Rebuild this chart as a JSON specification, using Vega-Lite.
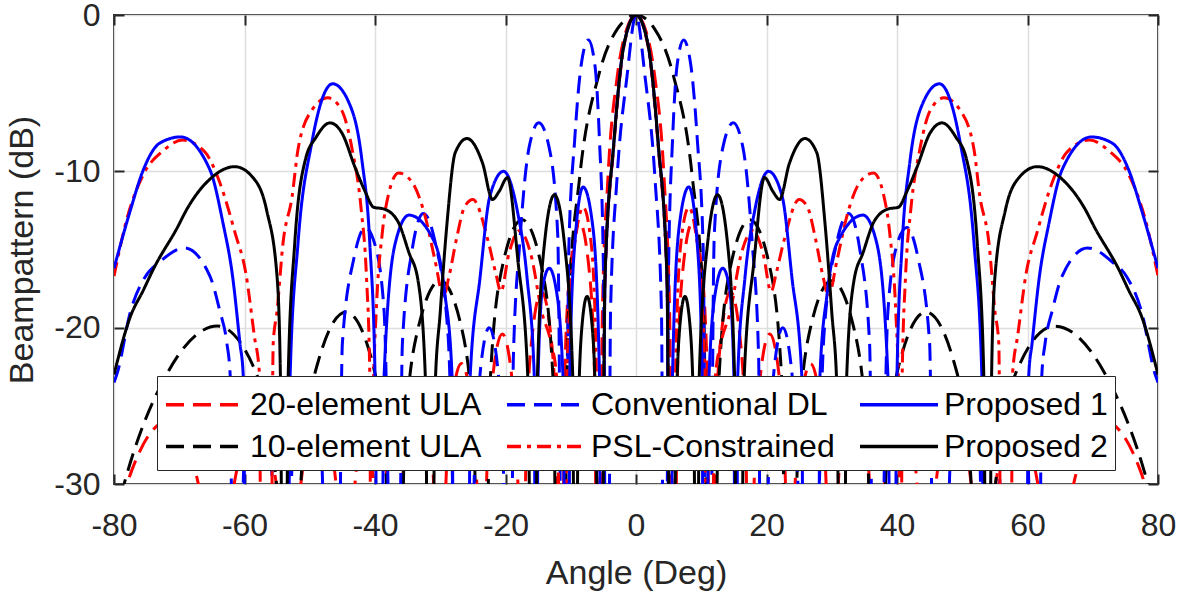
{
"$schema":"https://vega.github.io/schema/vega-lite/v6.json",
"width":1044,"height":469,"autosize":"none",
"padding":{"left":114,"top":15,"right":21,"bottom":116},
"background":"#ffffff",
"config":{"view":{"stroke":"#262626","strokeWidth":2},"font":"Liberation Sans",
 "axis":{"labelFont":"Liberation Sans","labelFontSize":32,"labelColor":"#262626","titleFont":"Liberation Sans","titleFontSize":34,"titleFontWeight":"normal","titleColor":"#262626","gridColor":"#dedede","gridWidth":1.5,"domain":false,"tickColor":"#262626","tickWidth":2,"tickSize":-10,"labelFlush":false,"labelOverlap":false,"labelExpr":"'' + datum.value"}},
"data":{"values":[
{"series":"20-element ULA","deg":-80,"db":-32.9},{"series":"20-element ULA","deg":-77.16,"db":-29},{"series":"20-element ULA","deg":-71.81,"db":-26},{"series":"20-element ULA","deg":-67.67,"db":-29},{"series":"20-element ULA","deg":-65.5,"db":-36.2},{"series":"20-element ULA","deg":-64.16,"db":-60},{"series":"20-element ULA","deg":-62.87,"db":-36},{"series":"20-element ULA","deg":-61.04,"db":-28.8},{"series":"20-element ULA","deg":-58.21,"db":-25.8},{"series":"20-element ULA","deg":-55.59,"db":-28.8},{"series":"20-element ULA","deg":-54.1,"db":-36},{"series":"20-element ULA","deg":-53.13,"db":-60},{"series":"20-element ULA","deg":-52.19,"db":-35.5},{"series":"20-element ULA","deg":-50.81,"db":-28.3},{"series":"20-element ULA","deg":-48.59,"db":-25.3},{"series":"20-element ULA","deg":-46.48,"db":-28.3},{"series":"20-element ULA","deg":-45.23,"db":-35.5},{"series":"20-element ULA","deg":-44.43,"db":-60},{"series":"20-element ULA","deg":-43.63,"db":-34.8},{"series":"20-element ULA","deg":-42.45,"db":-27.6},{"series":"20-element ULA","deg":-40.54,"db":-24.6},{"series":"20-element ULA","deg":-38.68,"db":-27.6},{"series":"20-element ULA","deg":-37.59,"db":-34.8},{"series":"20-element ULA","deg":-36.87,"db":-60},{"series":"20-element ULA","deg":-36.16,"db":-33.8},{"series":"20-element ULA","deg":-35.1,"db":-26.6},{"series":"20-element ULA","deg":-33.37,"db":-23.6},{"series":"20-element ULA","deg":-31.67,"db":-26.6},{"series":"20-element ULA","deg":-30.66,"db":-33.8},{"series":"20-element ULA","deg":-30,"db":-60},{"series":"20-element ULA","deg":-29.34,"db":-32.5},{"series":"20-element ULA","deg":-28.36,"db":-25.3},{"series":"20-element ULA","deg":-26.74,"db":-22.3},{"series":"20-element ULA","deg":-25.15,"db":-25.3},{"series":"20-element ULA","deg":-24.2,"db":-32.5},{"series":"20-element ULA","deg":-23.58,"db":-60},{"series":"20-element ULA","deg":-22.95,"db":-30.6},{"series":"20-element ULA","deg":-22.02,"db":-23.4},{"series":"20-element ULA","deg":-20.49,"db":-20.4},{"series":"20-element ULA","deg":-18.97,"db":-23.4},{"series":"20-element ULA","deg":-18.06,"db":-30.6},{"series":"20-element ULA","deg":-17.46,"db":-60},{"series":"20-element ULA","deg":-16.86,"db":-27.9},{"series":"20-element ULA","deg":-15.96,"db":-20.7},{"series":"20-element ULA","deg":-14.48,"db":-17.7},{"series":"20-element ULA","deg":-13,"db":-20.7},{"series":"20-element ULA","deg":-12.12,"db":-27.9},{"series":"20-element ULA","deg":-11.54,"db":-60},{"series":"20-element ULA","deg":-10.95,"db":-23.5},{"series":"20-element ULA","deg":-10.08,"db":-16.3},{"series":"20-element ULA","deg":-8.63,"db":-13.3},{"series":"20-element ULA","deg":-7.18,"db":-16.3},{"series":"20-element ULA","deg":-6.32,"db":-23.5},{"series":"20-element ULA","deg":-5.74,"db":-60},{"series":"20-element ULA","deg":-5.16,"db":-19.2},{"series":"20-element ULA","deg":-4.3,"db":-10.43},{"series":"20-element ULA","deg":-2.87,"db":-3.92},{"series":"20-element ULA","deg":-1.43,"db":-0.91},{"series":"20-element ULA","deg":0,"db":0},
{"series":"20-element ULA","deg":1.43,"db":-0.91},{"series":"20-element ULA","deg":2.87,"db":-3.92},{"series":"20-element ULA","deg":4.3,"db":-10.43},{"series":"20-element ULA","deg":5.16,"db":-19.2},{"series":"20-element ULA","deg":5.74,"db":-60},{"series":"20-element ULA","deg":6.32,"db":-23.5},{"series":"20-element ULA","deg":7.18,"db":-16.3},{"series":"20-element ULA","deg":8.63,"db":-13.3},{"series":"20-element ULA","deg":10.08,"db":-16.3},{"series":"20-element ULA","deg":10.95,"db":-23.5},{"series":"20-element ULA","deg":11.54,"db":-60},{"series":"20-element ULA","deg":12.12,"db":-27.9},{"series":"20-element ULA","deg":13,"db":-20.7},{"series":"20-element ULA","deg":14.48,"db":-17.7},{"series":"20-element ULA","deg":15.96,"db":-20.7},{"series":"20-element ULA","deg":16.86,"db":-27.9},{"series":"20-element ULA","deg":17.46,"db":-60},{"series":"20-element ULA","deg":18.06,"db":-30.6},{"series":"20-element ULA","deg":18.97,"db":-23.4},{"series":"20-element ULA","deg":20.49,"db":-20.4},{"series":"20-element ULA","deg":22.02,"db":-23.4},{"series":"20-element ULA","deg":22.95,"db":-30.6},{"series":"20-element ULA","deg":23.58,"db":-60},{"series":"20-element ULA","deg":24.2,"db":-32.5},{"series":"20-element ULA","deg":25.15,"db":-25.3},{"series":"20-element ULA","deg":26.74,"db":-22.3},{"series":"20-element ULA","deg":28.36,"db":-25.3},{"series":"20-element ULA","deg":29.34,"db":-32.5},{"series":"20-element ULA","deg":30,"db":-60},{"series":"20-element ULA","deg":30.66,"db":-33.8},{"series":"20-element ULA","deg":31.67,"db":-26.6},{"series":"20-element ULA","deg":33.37,"db":-23.6},{"series":"20-element ULA","deg":35.1,"db":-26.6},{"series":"20-element ULA","deg":36.16,"db":-33.8},{"series":"20-element ULA","deg":36.87,"db":-60},{"series":"20-element ULA","deg":37.59,"db":-34.8},{"series":"20-element ULA","deg":38.68,"db":-27.6},{"series":"20-element ULA","deg":40.54,"db":-24.6},{"series":"20-element ULA","deg":42.45,"db":-27.6},{"series":"20-element ULA","deg":43.63,"db":-34.8},{"series":"20-element ULA","deg":44.43,"db":-60},{"series":"20-element ULA","deg":45.23,"db":-35.5},{"series":"20-element ULA","deg":46.48,"db":-28.3},{"series":"20-element ULA","deg":48.59,"db":-25.3},{"series":"20-element ULA","deg":50.81,"db":-28.3},{"series":"20-element ULA","deg":52.19,"db":-35.5},{"series":"20-element ULA","deg":53.13,"db":-60},{"series":"20-element ULA","deg":54.1,"db":-36},{"series":"20-element ULA","deg":55.59,"db":-28.8},{"series":"20-element ULA","deg":58.21,"db":-25.8},{"series":"20-element ULA","deg":61.04,"db":-28.8},{"series":"20-element ULA","deg":62.87,"db":-36},{"series":"20-element ULA","deg":64.16,"db":-60},{"series":"20-element ULA","deg":65.5,"db":-36.2},{"series":"20-element ULA","deg":67.67,"db":-29},{"series":"20-element ULA","deg":71.81,"db":-26},{"series":"20-element ULA","deg":77.16,"db":-29},{"series":"20-element ULA","deg":80,"db":-32.9},

{"series":"10-element ULA","deg":-80,"db":-32.5},{"series":"10-element ULA","deg":-78.52,"db":-30.1},{"series":"10-element ULA","deg":-71.81,"db":-22.9},{"series":"10-element ULA","deg":-64.16,"db":-19.9},{"series":"10-element ULA","deg":-58.21,"db":-22.9},{"series":"10-element ULA","deg":-55.08,"db":-30.1},{"series":"10-element ULA","deg":-53.13,"db":-60},{"series":"10-element ULA","deg":-51.26,"db":-29.2},{"series":"10-element ULA","deg":-48.59,"db":-22},{"series":"10-element ULA","deg":-44.43,"db":-19},{"series":"10-element ULA","deg":-40.54,"db":-22},{"series":"10-element ULA","deg":-38.32,"db":-29.2},{"series":"10-element ULA","deg":-36.87,"db":-60},{"series":"10-element ULA","deg":-35.45,"db":-27.2},{"series":"10-element ULA","deg":-33.37,"db":-20},{"series":"10-element ULA","deg":-30,"db":-17},{"series":"10-element ULA","deg":-26.74,"db":-20},{"series":"10-element ULA","deg":-24.83,"db":-27.2},{"series":"10-element ULA","deg":-23.58,"db":-60},{"series":"10-element ULA","deg":-22.33,"db":-23.3},{"series":"10-element ULA","deg":-20.49,"db":-16.1},{"series":"10-element ULA","deg":-17.46,"db":-13.1},{"series":"10-element ULA","deg":-14.48,"db":-16.1},{"series":"10-element ULA","deg":-12.71,"db":-23.3},{"series":"10-element ULA","deg":-11.54,"db":-60},{"series":"10-element ULA","deg":-10.37,"db":-19.1},{"series":"10-element ULA","deg":-8.63,"db":-10.37},{"series":"10-element ULA","deg":-5.74,"db":-3.89},{"series":"10-element ULA","deg":-2.87,"db":-0.9},{"series":"10-element ULA","deg":0,"db":0},{"series":"10-element ULA","deg":2.87,"db":-0.9},{"series":"10-element ULA","deg":5.74,"db":-3.89},{"series":"10-element ULA","deg":8.63,"db":-10.37},{"series":"10-element ULA","deg":10.37,"db":-19.1},{"series":"10-element ULA","deg":11.54,"db":-60},{"series":"10-element ULA","deg":12.71,"db":-23.3},{"series":"10-element ULA","deg":14.48,"db":-16.1},{"series":"10-element ULA","deg":17.46,"db":-13.1},{"series":"10-element ULA","deg":20.49,"db":-16.1},{"series":"10-element ULA","deg":22.33,"db":-23.3},{"series":"10-element ULA","deg":23.58,"db":-60},{"series":"10-element ULA","deg":24.83,"db":-27.2},{"series":"10-element ULA","deg":26.74,"db":-20},{"series":"10-element ULA","deg":30,"db":-17},{"series":"10-element ULA","deg":33.37,"db":-20},{"series":"10-element ULA","deg":35.45,"db":-27.2},{"series":"10-element ULA","deg":36.87,"db":-60},{"series":"10-element ULA","deg":38.32,"db":-29.2},{"series":"10-element ULA","deg":40.54,"db":-22},{"series":"10-element ULA","deg":44.43,"db":-19},{"series":"10-element ULA","deg":48.59,"db":-22},{"series":"10-element ULA","deg":51.26,"db":-29.2},{"series":"10-element ULA","deg":53.13,"db":-60},{"series":"10-element ULA","deg":55.08,"db":-30.1},{"series":"10-element ULA","deg":58.21,"db":-22.9},{"series":"10-element ULA","deg":64.16,"db":-19.9},{"series":"10-element ULA","deg":71.81,"db":-22.9},{"series":"10-element ULA","deg":78.52,"db":-30.1},{"series":"10-element ULA","deg":80,"db":-32.5},

{"series":"Conventional DL","deg":-80,"db":-23.5},{"series":"Conventional DL","deg":-79.5,"db":-22.9},{"series":"Conventional DL","deg":-77.5,"db":-19},{"series":"Conventional DL","deg":-75.3,"db":-16.8},{"series":"Conventional DL","deg":-73,"db":-15.8},{"series":"Conventional DL","deg":-69.2,"db":-14.9},{"series":"Conventional DL","deg":-65.3,"db":-16.7},{"series":"Conventional DL","deg":-63.8,"db":-18.9},{"series":"Conventional DL","deg":-62.7,"db":-21},{"series":"Conventional DL","deg":-62.2,"db":-23},{"series":"Conventional DL","deg":-61.5,"db":-60},{"series":"Conventional DL","deg":-60,"db":-28},{"series":"Conventional DL","deg":-58,"db":-25},{"series":"Conventional DL","deg":-56,"db":-28},{"series":"Conventional DL","deg":-54,"db":-60},{"series":"Conventional DL","deg":-52.5,"db":-26},{"series":"Conventional DL","deg":-50.5,"db":-23.5},{"series":"Conventional DL","deg":-48.5,"db":-26},{"series":"Conventional DL","deg":-46,"db":-60},{"series":"Conventional DL","deg":-45,"db":-21},{"series":"Conventional DL","deg":-43.2,"db":-15.5},{"series":"Conventional DL","deg":-41.5,"db":-13.6},{"series":"Conventional DL","deg":-40,"db":-14.7},{"series":"Conventional DL","deg":-38.6,"db":-19},{"series":"Conventional DL","deg":-36.7,"db":-60},{"series":"Conventional DL","deg":-35.8,"db":-21},{"series":"Conventional DL","deg":-34.3,"db":-15},{"series":"Conventional DL","deg":-32.6,"db":-12.7},{"series":"Conventional DL","deg":-30.8,"db":-14.5},{"series":"Conventional DL","deg":-28.8,"db":-20.5},{"series":"Conventional DL","deg":-26.3,"db":-60},{"series":"Conventional DL","deg":-24.5,"db":-26},{"series":"Conventional DL","deg":-22.5,"db":-20},{"series":"Conventional DL","deg":-20.5,"db":-26},{"series":"Conventional DL","deg":-19.3,"db":-60},{"series":"Conventional DL","deg":-18.8,"db":-22},{"series":"Conventional DL","deg":-17.8,"db":-14.5},{"series":"Conventional DL","deg":-16.4,"db":-8.5},{"series":"Conventional DL","deg":-14.9,"db":-6.9},{"series":"Conventional DL","deg":-13.3,"db":-8.5},{"series":"Conventional DL","deg":-12,"db":-14},{"series":"Conventional DL","deg":-11,"db":-60},{"series":"Conventional DL","deg":-10.3,"db":-15},{"series":"Conventional DL","deg":-9.4,"db":-8},{"series":"Conventional DL","deg":-8.4,"db":-3.2},{"series":"Conventional DL","deg":-7.3,"db":-1.6},{"series":"Conventional DL","deg":-6.3,"db":-3.2},{"series":"Conventional DL","deg":-5.6,"db":-8},{"series":"Conventional DL","deg":-5,"db":-16},{"series":"Conventional DL","deg":-4.4,"db":-60},{"series":"Conventional DL","deg":-3.9,"db":-18.9},{"series":"Conventional DL","deg":-2.9,"db":-10.4},{"series":"Conventional DL","deg":-1.4,"db":-4},{"series":"Conventional DL","deg":0,"db":0},{"series":"Conventional DL","deg":1.4,"db":-4},{"series":"Conventional DL","deg":2.9,"db":-10.4},{"series":"Conventional DL","deg":3.9,"db":-18.9},{"series":"Conventional DL","deg":4.4,"db":-60},{"series":"Conventional DL","deg":5,"db":-16},{"series":"Conventional DL","deg":5.6,"db":-8},{"series":"Conventional DL","deg":6.3,"db":-3.2},{"series":"Conventional DL","deg":7.3,"db":-1.6},{"series":"Conventional DL","deg":8.4,"db":-3.2},{"series":"Conventional DL","deg":9.4,"db":-8},{"series":"Conventional DL","deg":10.3,"db":-15},{"series":"Conventional DL","deg":11,"db":-60},{"series":"Conventional DL","deg":12,"db":-14},{"series":"Conventional DL","deg":13.3,"db":-8.5},{"series":"Conventional DL","deg":14.9,"db":-6.9},{"series":"Conventional DL","deg":16.4,"db":-8.5},{"series":"Conventional DL","deg":17.8,"db":-14.5},{"series":"Conventional DL","deg":18.8,"db":-22},{"series":"Conventional DL","deg":19.3,"db":-60},{"series":"Conventional DL","deg":20.5,"db":-26},{"series":"Conventional DL","deg":22.5,"db":-20},{"series":"Conventional DL","deg":24.5,"db":-26},{"series":"Conventional DL","deg":26.3,"db":-60},{"series":"Conventional DL","deg":28.8,"db":-20.5},{"series":"Conventional DL","deg":30.8,"db":-14.5},{"series":"Conventional DL","deg":32.6,"db":-12.7},{"series":"Conventional DL","deg":34.3,"db":-15},{"series":"Conventional DL","deg":35.8,"db":-21},{"series":"Conventional DL","deg":36.7,"db":-60},{"series":"Conventional DL","deg":38.6,"db":-19},{"series":"Conventional DL","deg":40,"db":-14.7},{"series":"Conventional DL","deg":41.5,"db":-13.6},{"series":"Conventional DL","deg":43.2,"db":-15.5},{"series":"Conventional DL","deg":45,"db":-21},{"series":"Conventional DL","deg":46,"db":-60},{"series":"Conventional DL","deg":48.5,"db":-26},{"series":"Conventional DL","deg":50.5,"db":-23.5},{"series":"Conventional DL","deg":52.5,"db":-26},{"series":"Conventional DL","deg":54,"db":-60},{"series":"Conventional DL","deg":56,"db":-28},{"series":"Conventional DL","deg":58,"db":-25},{"series":"Conventional DL","deg":60,"db":-28},{"series":"Conventional DL","deg":61.5,"db":-60},{"series":"Conventional DL","deg":62.2,"db":-23},{"series":"Conventional DL","deg":62.7,"db":-21},{"series":"Conventional DL","deg":63.8,"db":-18.9},{"series":"Conventional DL","deg":65.3,"db":-16.7},{"series":"Conventional DL","deg":69.2,"db":-14.9},{"series":"Conventional DL","deg":73,"db":-15.8},{"series":"Conventional DL","deg":75.3,"db":-16.8},{"series":"Conventional DL","deg":77.5,"db":-19},{"series":"Conventional DL","deg":79.5,"db":-22.9},{"series":"Conventional DL","deg":80,"db":-23.5},

{"series":"PSL-Constrained","deg":-80,"db":-16.7},{"series":"PSL-Constrained","deg":-78,"db":-13},{"series":"PSL-Constrained","deg":-75.5,"db":-10.2},{"series":"PSL-Constrained","deg":-72.5,"db":-8.7},{"series":"PSL-Constrained","deg":-69.5,"db":-8},{"series":"PSL-Constrained","deg":-66,"db":-8.8},{"series":"PSL-Constrained","deg":-63.8,"db":-10.7},{"series":"PSL-Constrained","deg":-61.4,"db":-14},{"series":"PSL-Constrained","deg":-59.8,"db":-16.5},{"series":"PSL-Constrained","deg":-58.5,"db":-20.5},{"series":"PSL-Constrained","deg":-57.7,"db":-23},{"series":"PSL-Constrained","deg":-57.3,"db":-60},{"series":"PSL-Constrained","deg":-56.2,"db":-60},{"series":"PSL-Constrained","deg":-55.6,"db":-21},{"series":"PSL-Constrained","deg":-55,"db":-18.9},{"series":"PSL-Constrained","deg":-54.1,"db":-14.6},{"series":"PSL-Constrained","deg":-52.7,"db":-11.6},{"series":"PSL-Constrained","deg":-51.8,"db":-8.6},{"series":"PSL-Constrained","deg":-49.7,"db":-6.1},{"series":"PSL-Constrained","deg":-47.2,"db":-5.3},{"series":"PSL-Constrained","deg":-45.1,"db":-6.1},{"series":"PSL-Constrained","deg":-43.5,"db":-8.6},{"series":"PSL-Constrained","deg":-42.1,"db":-12.5},{"series":"PSL-Constrained","deg":-41.3,"db":-16.8},{"series":"PSL-Constrained","deg":-40.8,"db":-23},{"series":"PSL-Constrained","deg":-40.5,"db":-60},{"series":"PSL-Constrained","deg":-40.3,"db":-25},{"series":"PSL-Constrained","deg":-39.8,"db":-18.9},{"series":"PSL-Constrained","deg":-38.9,"db":-14},{"series":"PSL-Constrained","deg":-38,"db":-11.6},{"series":"PSL-Constrained","deg":-36.4,"db":-10.1},{"series":"PSL-Constrained","deg":-34.3,"db":-10.7},{"series":"PSL-Constrained","deg":-32.3,"db":-12.9},{"series":"PSL-Constrained","deg":-30.8,"db":-15.7},{"series":"PSL-Constrained","deg":-29.5,"db":-18},{"series":"PSL-Constrained","deg":-28.7,"db":-16.8},{"series":"PSL-Constrained","deg":-27.5,"db":-14.3},{"series":"PSL-Constrained","deg":-26.3,"db":-12.3},{"series":"PSL-Constrained","deg":-25,"db":-11.8},{"series":"PSL-Constrained","deg":-22.7,"db":-14.4},{"series":"PSL-Constrained","deg":-21.5,"db":-16.5},{"series":"PSL-Constrained","deg":-20.7,"db":-17.7},{"series":"PSL-Constrained","deg":-19.5,"db":-15.3},{"series":"PSL-Constrained","deg":-17.9,"db":-13.8},{"series":"PSL-Constrained","deg":-16,"db":-15.5},{"series":"PSL-Constrained","deg":-14.5,"db":-18.9},{"series":"PSL-Constrained","deg":-13,"db":-21},{"series":"PSL-Constrained","deg":-12.2,"db":-23},{"series":"PSL-Constrained","deg":-10.9,"db":-60},{"series":"PSL-Constrained","deg":-10.6,"db":-24},{"series":"PSL-Constrained","deg":-10,"db":-17.5},{"series":"PSL-Constrained","deg":-9.1,"db":-13.8},{"series":"PSL-Constrained","deg":-8.1,"db":-12.3},{"series":"PSL-Constrained","deg":-6.9,"db":-14.5},{"series":"PSL-Constrained","deg":-6.1,"db":-22},{"series":"PSL-Constrained","deg":-5.6,"db":-60},{"series":"PSL-Constrained","deg":-4.75,"db":-17},{"series":"PSL-Constrained","deg":-3.4,"db":-8.4},{"series":"PSL-Constrained","deg":-1.8,"db":-1.9},{"series":"PSL-Constrained","deg":0,"db":0},{"series":"PSL-Constrained","deg":1.8,"db":-1.9},{"series":"PSL-Constrained","deg":3.4,"db":-8.4},{"series":"PSL-Constrained","deg":4.75,"db":-17},{"series":"PSL-Constrained","deg":5.6,"db":-60},{"series":"PSL-Constrained","deg":6.1,"db":-22},{"series":"PSL-Constrained","deg":6.9,"db":-14.5},{"series":"PSL-Constrained","deg":8.1,"db":-12.3},{"series":"PSL-Constrained","deg":9.1,"db":-13.8},{"series":"PSL-Constrained","deg":10,"db":-17.5},{"series":"PSL-Constrained","deg":10.6,"db":-24},{"series":"PSL-Constrained","deg":10.9,"db":-60},{"series":"PSL-Constrained","deg":12.2,"db":-23},{"series":"PSL-Constrained","deg":13,"db":-21},{"series":"PSL-Constrained","deg":14.5,"db":-18.9},{"series":"PSL-Constrained","deg":16,"db":-15.5},{"series":"PSL-Constrained","deg":17.9,"db":-13.8},{"series":"PSL-Constrained","deg":19.5,"db":-15.3},{"series":"PSL-Constrained","deg":20.7,"db":-17.7},{"series":"PSL-Constrained","deg":21.5,"db":-16.5},{"series":"PSL-Constrained","deg":22.7,"db":-14.4},{"series":"PSL-Constrained","deg":25,"db":-11.8},{"series":"PSL-Constrained","deg":26.3,"db":-12.3},{"series":"PSL-Constrained","deg":27.5,"db":-14.3},{"series":"PSL-Constrained","deg":28.7,"db":-16.8},{"series":"PSL-Constrained","deg":29.5,"db":-18},{"series":"PSL-Constrained","deg":30.8,"db":-15.7},{"series":"PSL-Constrained","deg":32.3,"db":-12.9},{"series":"PSL-Constrained","deg":34.3,"db":-10.7},{"series":"PSL-Constrained","deg":36.4,"db":-10.1},{"series":"PSL-Constrained","deg":38,"db":-11.6},{"series":"PSL-Constrained","deg":38.9,"db":-14},{"series":"PSL-Constrained","deg":39.8,"db":-18.9},{"series":"PSL-Constrained","deg":40.3,"db":-25},{"series":"PSL-Constrained","deg":40.5,"db":-60},{"series":"PSL-Constrained","deg":40.8,"db":-23},{"series":"PSL-Constrained","deg":41.3,"db":-16.8},{"series":"PSL-Constrained","deg":42.1,"db":-12.5},{"series":"PSL-Constrained","deg":43.5,"db":-8.6},{"series":"PSL-Constrained","deg":45.1,"db":-6.1},{"series":"PSL-Constrained","deg":47.2,"db":-5.3},{"series":"PSL-Constrained","deg":49.7,"db":-6.1},{"series":"PSL-Constrained","deg":51.8,"db":-8.6},{"series":"PSL-Constrained","deg":52.7,"db":-11.6},{"series":"PSL-Constrained","deg":54.1,"db":-14.6},{"series":"PSL-Constrained","deg":55,"db":-18.9},{"series":"PSL-Constrained","deg":55.6,"db":-21},{"series":"PSL-Constrained","deg":56.2,"db":-60},{"series":"PSL-Constrained","deg":57.3,"db":-60},{"series":"PSL-Constrained","deg":57.7,"db":-23},{"series":"PSL-Constrained","deg":58.5,"db":-20.5},{"series":"PSL-Constrained","deg":59.8,"db":-16.5},{"series":"PSL-Constrained","deg":61.4,"db":-14},{"series":"PSL-Constrained","deg":63.8,"db":-10.7},{"series":"PSL-Constrained","deg":66,"db":-8.8},{"series":"PSL-Constrained","deg":69.5,"db":-8},{"series":"PSL-Constrained","deg":72.5,"db":-8.7},{"series":"PSL-Constrained","deg":75.5,"db":-10.2},{"series":"PSL-Constrained","deg":78,"db":-13},{"series":"PSL-Constrained","deg":80,"db":-16.7},

{"series":"Proposed 1","deg":-80,"db":-16.2},{"series":"Proposed 1","deg":-77.5,"db":-12.5},{"series":"Proposed 1","deg":-75.5,"db":-9.9},{"series":"Proposed 1","deg":-73,"db":-8.2},{"series":"Proposed 1","deg":-69.8,"db":-7.8},{"series":"Proposed 1","deg":-65.3,"db":-9.9},{"series":"Proposed 1","deg":-63.3,"db":-13.3},{"series":"Proposed 1","deg":-61.8,"db":-16.8},{"series":"Proposed 1","deg":-60.7,"db":-21},{"series":"Proposed 1","deg":-60.2,"db":-23},{"series":"Proposed 1","deg":-59.5,"db":-60},{"series":"Proposed 1","deg":-53.6,"db":-60},{"series":"Proposed 1","deg":-53,"db":-23},{"series":"Proposed 1","deg":-51.8,"db":-14.6},{"series":"Proposed 1","deg":-49.7,"db":-8.2},{"series":"Proposed 1","deg":-46.5,"db":-4.4},{"series":"Proposed 1","deg":-44,"db":-5.6},{"series":"Proposed 1","deg":-42,"db":-9.3},{"series":"Proposed 1","deg":-40.8,"db":-14.6},{"series":"Proposed 1","deg":-40,"db":-23},{"series":"Proposed 1","deg":-39.3,"db":-60},{"series":"Proposed 1","deg":-38.6,"db":-23},{"series":"Proposed 1","deg":-36.9,"db":-14.6},{"series":"Proposed 1","deg":-34.8,"db":-12.8},{"series":"Proposed 1","deg":-30.8,"db":-14.6},{"series":"Proposed 1","deg":-29.3,"db":-17.8},{"series":"Proposed 1","deg":-28.2,"db":-23},{"series":"Proposed 1","deg":-27.8,"db":-60},{"series":"Proposed 1","deg":-25.8,"db":-60},{"series":"Proposed 1","deg":-25.4,"db":-23},{"series":"Proposed 1","deg":-23.9,"db":-16.8},{"series":"Proposed 1","deg":-22.4,"db":-11.6},{"series":"Proposed 1","deg":-20.3,"db":-10},{"series":"Proposed 1","deg":-18.2,"db":-12.5},{"series":"Proposed 1","deg":-16.7,"db":-16.8},{"series":"Proposed 1","deg":-15.6,"db":-23},{"series":"Proposed 1","deg":-15.3,"db":-60},{"series":"Proposed 1","deg":-15,"db":-23},{"series":"Proposed 1","deg":-14.3,"db":-17.4},{"series":"Proposed 1","deg":-13.3,"db":-16.2},{"series":"Proposed 1","deg":-12.3,"db":-17.4},{"series":"Proposed 1","deg":-11.2,"db":-23},{"series":"Proposed 1","deg":-10.5,"db":-60},{"series":"Proposed 1","deg":-10.1,"db":-22},{"series":"Proposed 1","deg":-9.3,"db":-14.2},{"series":"Proposed 1","deg":-8.1,"db":-11},{"series":"Proposed 1","deg":-6.6,"db":-13.6},{"series":"Proposed 1","deg":-5.6,"db":-23},{"series":"Proposed 1","deg":-5.3,"db":-60},{"series":"Proposed 1","deg":-4.75,"db":-16.8},{"series":"Proposed 1","deg":-3.4,"db":-8.2},{"series":"Proposed 1","deg":-1.8,"db":-1.8},{"series":"Proposed 1","deg":0,"db":0},{"series":"Proposed 1","deg":1.8,"db":-1.8},{"series":"Proposed 1","deg":3.4,"db":-8.2},{"series":"Proposed 1","deg":4.75,"db":-16.8},{"series":"Proposed 1","deg":5.3,"db":-60},{"series":"Proposed 1","deg":5.6,"db":-23},{"series":"Proposed 1","deg":6.6,"db":-13.6},{"series":"Proposed 1","deg":8.1,"db":-11},{"series":"Proposed 1","deg":9.3,"db":-14.2},{"series":"Proposed 1","deg":10.1,"db":-22},{"series":"Proposed 1","deg":10.5,"db":-60},{"series":"Proposed 1","deg":11.2,"db":-23},{"series":"Proposed 1","deg":12.3,"db":-17.4},{"series":"Proposed 1","deg":13.3,"db":-16.2},{"series":"Proposed 1","deg":14.3,"db":-17.4},{"series":"Proposed 1","deg":15,"db":-23},{"series":"Proposed 1","deg":15.3,"db":-60},{"series":"Proposed 1","deg":15.6,"db":-23},{"series":"Proposed 1","deg":16.7,"db":-16.8},{"series":"Proposed 1","deg":18.2,"db":-12.5},{"series":"Proposed 1","deg":20.3,"db":-10},{"series":"Proposed 1","deg":22.4,"db":-11.6},{"series":"Proposed 1","deg":23.9,"db":-16.8},{"series":"Proposed 1","deg":25.4,"db":-23},{"series":"Proposed 1","deg":25.8,"db":-60},{"series":"Proposed 1","deg":27.8,"db":-60},{"series":"Proposed 1","deg":28.2,"db":-23},{"series":"Proposed 1","deg":29.3,"db":-17.8},{"series":"Proposed 1","deg":30.8,"db":-14.6},{"series":"Proposed 1","deg":34.8,"db":-12.8},{"series":"Proposed 1","deg":36.9,"db":-14.6},{"series":"Proposed 1","deg":38.6,"db":-23},{"series":"Proposed 1","deg":39.3,"db":-60},{"series":"Proposed 1","deg":40,"db":-23},{"series":"Proposed 1","deg":40.8,"db":-14.6},{"series":"Proposed 1","deg":42,"db":-9.3},{"series":"Proposed 1","deg":44,"db":-5.6},{"series":"Proposed 1","deg":46.5,"db":-4.4},{"series":"Proposed 1","deg":49.7,"db":-8.2},{"series":"Proposed 1","deg":51.8,"db":-14.6},{"series":"Proposed 1","deg":53,"db":-23},{"series":"Proposed 1","deg":53.6,"db":-60},{"series":"Proposed 1","deg":59.5,"db":-60},{"series":"Proposed 1","deg":60.2,"db":-23},{"series":"Proposed 1","deg":60.7,"db":-21},{"series":"Proposed 1","deg":61.8,"db":-16.8},{"series":"Proposed 1","deg":63.3,"db":-13.3},{"series":"Proposed 1","deg":65.3,"db":-9.9},{"series":"Proposed 1","deg":69.8,"db":-7.8},{"series":"Proposed 1","deg":73,"db":-8.2},{"series":"Proposed 1","deg":75.5,"db":-9.9},{"series":"Proposed 1","deg":77.5,"db":-12.5},{"series":"Proposed 1","deg":80,"db":-16.2},

{"series":"Proposed 2","deg":-80,"db":-23},{"series":"Proposed 2","deg":-77.5,"db":-19.3},{"series":"Proposed 2","deg":-75.5,"db":-17.6},{"series":"Proposed 2","deg":-73.9,"db":-16.2},{"series":"Proposed 2","deg":-70.3,"db":-13.6},{"series":"Proposed 2","deg":-68.8,"db":-12.4},{"series":"Proposed 2","deg":-65.3,"db":-10.5},{"series":"Proposed 2","deg":-61.5,"db":-9.7},{"series":"Proposed 2","deg":-58.7,"db":-10.4},{"series":"Proposed 2","deg":-56.6,"db":-12.5},{"series":"Proposed 2","deg":-55,"db":-16.8},{"series":"Proposed 2","deg":-54.5,"db":-23},{"series":"Proposed 2","deg":-53.9,"db":-60},{"series":"Proposed 2","deg":-53.3,"db":-23},{"series":"Proposed 2","deg":-52.3,"db":-14.6},{"series":"Proposed 2","deg":-50.7,"db":-9.3},{"series":"Proposed 2","deg":-49,"db":-7.8},{"series":"Proposed 2","deg":-46.9,"db":-6.9},{"series":"Proposed 2","deg":-45,"db":-7.6},{"series":"Proposed 2","deg":-43.1,"db":-9.7},{"series":"Proposed 2","deg":-41.5,"db":-11.3},{"series":"Proposed 2","deg":-40.2,"db":-12.3},{"series":"Proposed 2","deg":-38.7,"db":-12.4},{"series":"Proposed 2","deg":-36.5,"db":-13.2},{"series":"Proposed 2","deg":-34.8,"db":-15.2},{"series":"Proposed 2","deg":-33.4,"db":-17},{"series":"Proposed 2","deg":-32.3,"db":-23},{"series":"Proposed 2","deg":-31.5,"db":-60},{"series":"Proposed 2","deg":-30.8,"db":-24},{"series":"Proposed 2","deg":-30,"db":-19},{"series":"Proposed 2","deg":-29,"db":-13.5},{"series":"Proposed 2","deg":-27.7,"db":-8.8},{"series":"Proposed 2","deg":-25.9,"db":-7.9},{"series":"Proposed 2","deg":-23.5,"db":-9.5},{"series":"Proposed 2","deg":-22,"db":-11.8},{"series":"Proposed 2","deg":-21,"db":-11.3},{"series":"Proposed 2","deg":-19.7,"db":-10.4},{"series":"Proposed 2","deg":-18.1,"db":-15.7},{"series":"Proposed 2","deg":-16.6,"db":-23},{"series":"Proposed 2","deg":-15.6,"db":-60},{"series":"Proposed 2","deg":-15.1,"db":-23},{"series":"Proposed 2","deg":-14,"db":-14.5},{"series":"Proposed 2","deg":-12.5,"db":-11.5},{"series":"Proposed 2","deg":-11,"db":-14.5},{"series":"Proposed 2","deg":-9.7,"db":-23},{"series":"Proposed 2","deg":-9.3,"db":-60},{"series":"Proposed 2","deg":-8.9,"db":-27},{"series":"Proposed 2","deg":-8.3,"db":-20},{"series":"Proposed 2","deg":-7.5,"db":-18},{"series":"Proposed 2","deg":-6.7,"db":-20},{"series":"Proposed 2","deg":-6.1,"db":-27},{"series":"Proposed 2","deg":-5.5,"db":-60},{"series":"Proposed 2","deg":-4.75,"db":-16.8},{"series":"Proposed 2","deg":-3.4,"db":-8.2},{"series":"Proposed 2","deg":-1.8,"db":-1.8},{"series":"Proposed 2","deg":0,"db":0},{"series":"Proposed 2","deg":1.8,"db":-1.8},{"series":"Proposed 2","deg":3.4,"db":-8.2},{"series":"Proposed 2","deg":4.75,"db":-16.8},{"series":"Proposed 2","deg":5.5,"db":-60},{"series":"Proposed 2","deg":6.1,"db":-27},{"series":"Proposed 2","deg":6.7,"db":-20},{"series":"Proposed 2","deg":7.5,"db":-18},{"series":"Proposed 2","deg":8.3,"db":-20},{"series":"Proposed 2","deg":8.9,"db":-27},{"series":"Proposed 2","deg":9.3,"db":-60},{"series":"Proposed 2","deg":9.7,"db":-23},{"series":"Proposed 2","deg":11,"db":-14.5},{"series":"Proposed 2","deg":12.5,"db":-11.5},{"series":"Proposed 2","deg":14,"db":-14.5},{"series":"Proposed 2","deg":15.1,"db":-23},{"series":"Proposed 2","deg":15.6,"db":-60},{"series":"Proposed 2","deg":16.6,"db":-23},{"series":"Proposed 2","deg":18.1,"db":-15.7},{"series":"Proposed 2","deg":19.7,"db":-10.4},{"series":"Proposed 2","deg":21,"db":-11.3},{"series":"Proposed 2","deg":22,"db":-11.8},{"series":"Proposed 2","deg":23.5,"db":-9.5},{"series":"Proposed 2","deg":25.9,"db":-7.9},{"series":"Proposed 2","deg":27.7,"db":-8.8},{"series":"Proposed 2","deg":29,"db":-13.5},{"series":"Proposed 2","deg":30,"db":-19},{"series":"Proposed 2","deg":30.8,"db":-24},{"series":"Proposed 2","deg":31.5,"db":-60},{"series":"Proposed 2","deg":32.3,"db":-23},{"series":"Proposed 2","deg":33.4,"db":-17},{"series":"Proposed 2","deg":34.8,"db":-15.2},{"series":"Proposed 2","deg":36.5,"db":-13.2},{"series":"Proposed 2","deg":38.7,"db":-12.4},{"series":"Proposed 2","deg":40.2,"db":-12.3},{"series":"Proposed 2","deg":41.5,"db":-11.3},{"series":"Proposed 2","deg":43.1,"db":-9.7},{"series":"Proposed 2","deg":45,"db":-7.6},{"series":"Proposed 2","deg":46.9,"db":-6.9},{"series":"Proposed 2","deg":49,"db":-7.8},{"series":"Proposed 2","deg":50.7,"db":-9.3},{"series":"Proposed 2","deg":52.3,"db":-14.6},{"series":"Proposed 2","deg":53.3,"db":-23},{"series":"Proposed 2","deg":53.9,"db":-60},{"series":"Proposed 2","deg":54.5,"db":-23},{"series":"Proposed 2","deg":55,"db":-16.8},{"series":"Proposed 2","deg":56.6,"db":-12.5},{"series":"Proposed 2","deg":58.7,"db":-10.4},{"series":"Proposed 2","deg":61.5,"db":-9.7},{"series":"Proposed 2","deg":65.3,"db":-10.5},{"series":"Proposed 2","deg":68.8,"db":-12.4},{"series":"Proposed 2","deg":70.3,"db":-13.6},{"series":"Proposed 2","deg":73.9,"db":-16.2},{"series":"Proposed 2","deg":75.5,"db":-17.6},{"series":"Proposed 2","deg":77.5,"db":-19.3},{"series":"Proposed 2","deg":80,"db":-23}
]},
"resolve":{"axis":{"x":"independent","y":"independent"}},
"layer":[
 {"encoding":{
   "x":{"field":"deg","type":"quantitative","scale":{"domain":[-80,80],"nice":false,"zero":false},"axis":{"orient":"bottom","values":[-80,-60,-40,-20,0,20,40,60,80],"title":"Angle (Deg)","grid":true,"labelPadding":36,"titlePadding":15}},
   "y":{"field":"db","type":"quantitative","scale":{"domain":[-30,0],"nice":false,"zero":false},"axis":{"orient":"left","values":[-30,-20,-10,0],"title":"Beampattern (dB)","grid":true,"labelPadding":24,"titlePadding":14}},
   "color":{"field":"series","type":"nominal","scale":{"domain":["20-element ULA","10-element ULA","Conventional DL","PSL-Constrained","Proposed 1","Proposed 2"],"range":["#ff0000","#000000","#0000ff","#ff0000","#0000ff","#000000"]},
     "legend":{"orient":"none","legendX":43,"legendY":361,"columns":3,"title":null,"symbolType":"M-1,0H3","symbolSize":1521,"symbolStrokeWidth":3.5,"labelFontSize":32,"labelFont":"Liberation Sans","labelColor":"#000000","labelOffset":43,"labelLimit":500,"columnPadding":18,"rowPadding":4,"padding":7,"strokeColor":"#262626","fillColor":"#ffffff"}},
   "strokeDash":{"field":"series","type":"nominal","scale":{"domain":["20-element ULA","10-element ULA","Conventional DL","PSL-Constrained","Proposed 1","Proposed 2"],"range":[[18,9],[18,9],[18,9],[14,6,4,6],[1,0],[1,0]]},
     "legend":{"orient":"none","legendX":43,"legendY":361,"columns":3,"title":null,"symbolType":"M-1,0H3","symbolSize":1521,"symbolStrokeWidth":3.5,"labelFontSize":32,"labelFont":"Liberation Sans","labelColor":"#000000","labelOffset":43,"labelLimit":500,"columnPadding":18,"rowPadding":4,"padding":7,"strokeColor":"#262626","fillColor":"#ffffff"}}
  },
  "layer":[
   {"transform":[{"filter":{"field":"series","equal":"20-element ULA"}}],"mark":{"type":"line","interpolate":"monotone","strokeWidth":3,"clip":true}},
   {"transform":[{"filter":{"field":"series","equal":"10-element ULA"}}],"mark":{"type":"line","interpolate":"monotone","strokeWidth":3,"clip":true}},
   {"transform":[{"filter":{"field":"series","equal":"Conventional DL"}}],"mark":{"type":"line","interpolate":"monotone","strokeWidth":3,"clip":true}},
   {"transform":[{"filter":{"field":"series","equal":"PSL-Constrained"}}],"mark":{"type":"line","interpolate":"monotone","strokeWidth":3,"clip":true}},
   {"transform":[{"filter":{"field":"series","equal":"Proposed 1"}}],"mark":{"type":"line","interpolate":"monotone","strokeWidth":3,"clip":true}},
   {"transform":[{"filter":{"field":"series","equal":"Proposed 2"}}],"mark":{"type":"line","interpolate":"monotone","strokeWidth":3,"clip":true}}
  ]},
 {"transform":[{"filter":"false"}],"mark":{"type":"point","opacity":0},
  "encoding":{
   "x":{"field":"deg","type":"quantitative","axis":{"orient":"top","values":[-80,-60,-40,-20,0,20,40,60,80],"labels":false,"grid":false,"title":null}},
   "y":{"field":"db","type":"quantitative","axis":{"orient":"right","values":[-30,-20,-10,0],"labels":false,"grid":false,"title":null}}
  }}
]
}
